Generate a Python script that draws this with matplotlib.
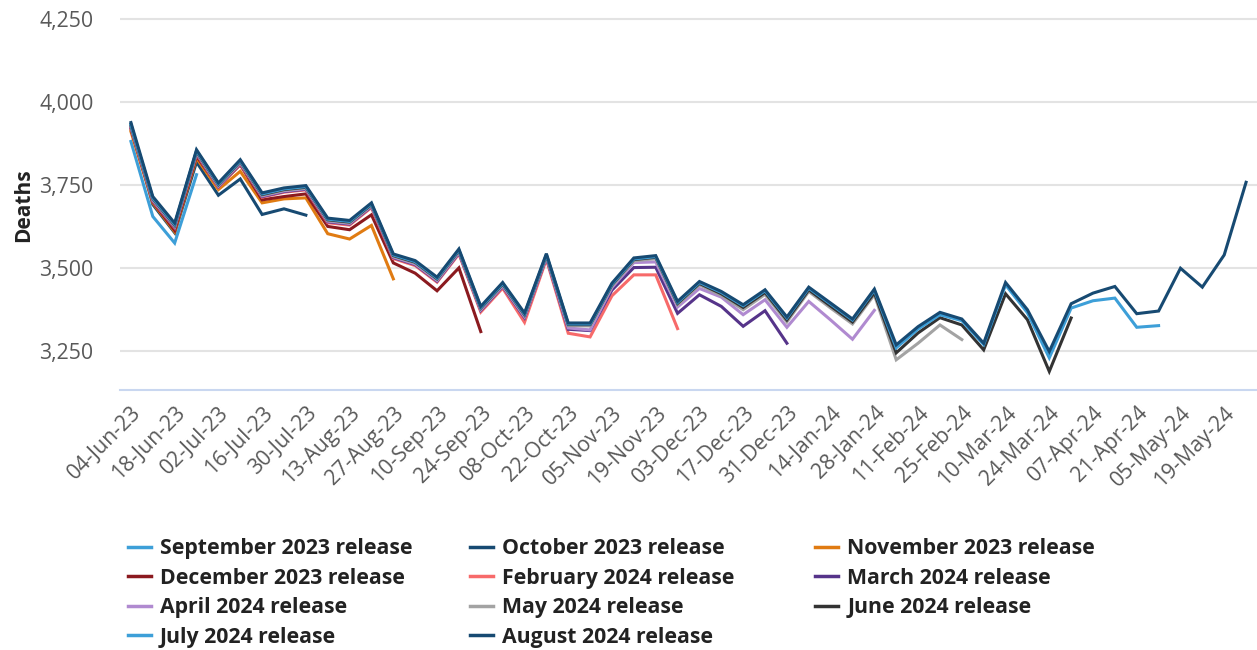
import matplotlib
matplotlib.use("Agg")
import matplotlib.pyplot as plt
from matplotlib.lines import Line2D
import pandas as pd

plt.rcParams['font.family'] = ['Open Sans', 'DejaVu Sans']

# Weekly dates (week ending) from 04-Jun-23 to 26-May-24
weeks = pd.date_range("2023-06-04", periods=52, freq="7D")
week_labels = [d.strftime("%d-%b-%y") for d in weeks]

sep23 = [3880, 3654, 3574, 3780]
oct23 = [3932, 3690, 3605, 3818, 3718, 3767, 3660, 3677, 3658]
nov23 = [3910, 3695, 3608, 3830, 3735, 3790, 3695, 3707, 3710, 3602, 3586, 3627, 3466]
dec23 = [3918, 3698, 3612, 3836, 3744, 3810, 3704, 3714, 3722, 3624, 3614, 3659, 3514,
         3483, 3430, 3499, 3307]
feb24 = [3920, 3700, 3620, 3842, 3742, 3812, 3712, 3727, 3734, 3635, 3628, 3681, 3527,
         3506, 3456, 3541, 3366, 3438, 3335, 3525, 3302, 3291, 3415, 3478, 3478, 3316]
mar24 = [3922, 3702, 3622, 3844, 3744, 3814, 3714, 3729, 3736, 3638, 3631, 3684, 3530,
         3509, 3459, 3544, 3371, 3443, 3349, 3530, 3314, 3310, 3432, 3500, 3501, 3362,
         3418, 3383, 3323, 3370, 3272]
apr24 = [3924, 3704, 3624, 3846, 3746, 3816, 3716, 3731, 3738, 3640, 3633, 3686, 3532,
         3511, 3461, 3546, 3373, 3445, 3352, 3532, 3318, 3312, 3440, 3515, 3517, 3381,
         3437, 3411, 3358, 3403, 3320, 3398, 3342, 3284, 3371]
may24 = [3926, 3706, 3626, 3848, 3748, 3818, 3718, 3733, 3740, 3642, 3635, 3688, 3534,
         3514, 3464, 3549, 3376, 3448, 3356, 3535, 3325, 3324, 3445, 3520, 3527, 3388,
         3448, 3416, 3373, 3419, 3336, 3428, 3378, 3330, 3418, 3222, 3272, 3327, 3283]
jun24 = [3928, 3708, 3628, 3850, 3750, 3820, 3720, 3735, 3742, 3644, 3637, 3690, 3536,
         3516, 3466, 3551, 3378, 3450, 3358, 3537, 3328, 3328, 3448, 3524, 3531, 3392,
         3452, 3421, 3380, 3425, 3342, 3433, 3384, 3336, 3424, 3243, 3303, 3349, 3327,
         3252, 3421, 3343, 3187, 3348]
jul24 = [3930, 3710, 3630, 3852, 3752, 3822, 3722, 3737, 3744, 3646, 3639, 3692, 3538,
         3518, 3468, 3553, 3380, 3452, 3360, 3539, 3330, 3330, 3450, 3526, 3533, 3395,
         3455, 3425, 3385, 3430, 3348, 3438, 3390, 3342, 3432, 3258, 3315, 3358, 3340,
         3268, 3448, 3364, 3228, 3378, 3400, 3408, 3320, 3325]
aug24 = [3937, 3714, 3634, 3855, 3755, 3825, 3725, 3740, 3747, 3649, 3642, 3695, 3541,
         3521, 3471, 3556, 3383, 3455, 3363, 3542, 3333, 3333, 3453, 3529, 3536, 3398,
         3458, 3428, 3388, 3433, 3351, 3441, 3393, 3345, 3435, 3267, 3322, 3365, 3345,
         3272, 3455, 3373, 3247, 3391, 3423, 3443, 3361, 3369, 3498, 3441, 3538, 3757]

series_names = ["September 2023 release", "October 2023 release", "November 2023 release",
                "December 2023 release", "February 2024 release", "March 2024 release",
                "April 2024 release", "May 2024 release", "June 2024 release",
                "July 2024 release", "August 2024 release"]
series_values = [sep23, oct23, nov23, dec23, feb24, mar24, apr24, may24, jun24, jul24, aug24]
series_colors = ["#3d9fd8", "#174a72", "#e07b12", "#8b1a1f", "#f76a6a", "#56348a",
                 "#b08ad0", "#a3a3a3", "#333333", "#3d9fd8", "#174a72"]

fig = plt.figure(figsize=(12.57, 6.5), dpi=100)
ax = fig.add_axes([120/1257, 1-390/650, 1137/1257, 380/650])

for name, vals, col in zip(series_names, series_values, series_colors):
    ax.plot(range(len(vals)), vals, color=col, lw=2.2, label=name, solid_joinstyle='miter')

ymin = 3131
ymax = 4250 + 8.7 / (82.9 / 250)
ax.set_ylim(ymin, ymax)
ax.set_xlim(-0.5, len(weeks) - 0.5)
ax.set_yticks([3250, 3500, 3750, 4000, 4250])
ax.set_yticklabels([f"{v:,}" for v in [3250, 3500, 3750, 4000, 4250]])
ax.grid(axis='y', color='#e3e3e3', lw=1.5)
ax.set_axisbelow(True)
for s in ['top', 'right', 'left']:
    ax.spines[s].set_visible(False)
ax.spines['bottom'].set_color('#c9d7f0')
ax.spines['bottom'].set_linewidth(1.5)

tick_pos = list(range(0, len(weeks), 2))
ax.set_xticks(tick_pos)
ax.set_xticklabels([week_labels[i] for i in tick_pos], rotation=45, ha='right',
                   rotation_mode='anchor')
ax.tick_params(axis='both', length=0, labelsize=15.3, labelcolor='#595959')
ax.tick_params(axis='x', pad=9)
ax.tick_params(axis='y', pad=19)
ax.set_ylabel("Deaths", fontsize=15, fontweight='bold', color='#222222')
ax.yaxis.set_label_coords(-86/1137, 0.487)

# Legend: three fixed-width columns, row-wise order
handles = [Line2D([0], [0], color=c, lw=2.5) for c in series_colors]
cols = [[0, 3, 6, 9], [1, 4, 7, 10], [2, 5, 8]]
col_x = [124, 466, 811]
for cx, idxs in zip(col_x, cols):
    fig.legend([handles[i] for i in idxs], [series_names[i] for i in idxs],
               loc='upper left', bbox_to_anchor=(cx/1257, 1-534/650), frameon=False,
               prop={'size': 15.3, 'weight': 'bold'}, labelcolor='#222222',
               handlelength=1.05, handletextpad=0.45, labelspacing=0.4,
               borderaxespad=0, borderpad=0.2)

fig.savefig("out.png", dpi=100)
